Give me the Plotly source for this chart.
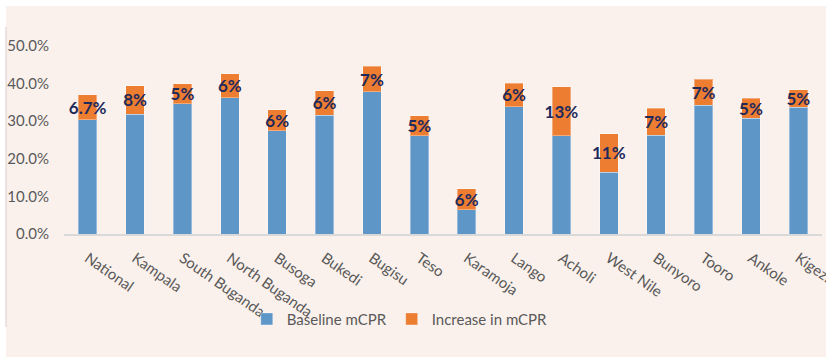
import plotly.graph_objects as go

regions = ["National", "Kampala", "South Buganda", "North Buganda", "Busoga", "Bukedi",
           "Bugisu", "Teso", "Karamoja", "Lango", "Acholi", "West Nile", "Bunyoro",
           "Tooro", "Ankole", "Kigezi"]
baseline = [0.304, 0.319, 0.347, 0.363, 0.274, 0.316, 0.378, 0.261, 0.064, 0.339,
            0.261, 0.164, 0.263, 0.343, 0.308, 0.337]
increase = [0.067, 0.075, 0.052, 0.063, 0.057, 0.065, 0.068, 0.054, 0.057, 0.062,
            0.131, 0.103, 0.071, 0.069, 0.053, 0.047]
increase_labels = ["6.7%", "8%", "5%", "6%", "6%", "6%", "7%", "5%", "6%", "6%",
                   "13%", "11%", "7%", "7%", "5%", "5%"]

BLUE = "#5F96C8"
ORANGE = "#ED7D31"
GREY = "#595959"
BG = "#FBF1EC"
FONT = "Lato"

fig = go.Figure()
fig.add_trace(go.Bar(
    x=regions, y=baseline, name="Baseline mCPR",
    marker=dict(color=BLUE, line=dict(color="rgba(255,255,255,0.35)", width=1)),
    hoverinfo="skip",
))
fig.add_trace(go.Bar(
    x=regions, y=increase, name="Increase in mCPR",
    marker=dict(color=ORANGE, line=dict(color="rgba(255,255,255,0.35)", width=1)),
    text=increase_labels, textposition="inside", insidetextanchor="middle",
    constraintext="none", textangle=0,
    textfont=dict(family=FONT, size=17, color="#1F2A5C", weight="bold"),
    hoverinfo="skip",
))

# plot-area geometry helpers for decoration (pixel -> paper)
L, R, T, B = 64, 4, 46, 123
W, H = 826, 357
pw, ph = W - L - R, H - T - B
def px(x):
    return (x - L) / pw
def py(y):
    return (H - B - y) / ph

fig.update_layout(
    width=W, height=H,
    margin=dict(l=L, r=R, t=T, b=B, autoexpand=False),
    barmode="stack", bargap=0.61,
    paper_bgcolor=BG, plot_bgcolor="rgba(0,0,0,0)",
    font=dict(family=FONT, size=14, color=GREY),
    showlegend=True,
    legend=dict(orientation="h", xref="container", yref="container",
                x=0.484, y=0.106, xanchor="center", yanchor="middle",
                font=dict(family=FONT, size=15, color=GREY),
                bgcolor="rgba(0,0,0,0)", itemwidth=30, traceorder="normal"),
    xaxis=dict(showline=True, linecolor="#D9D9D9", linewidth=1.5, tickangle=35,
               showgrid=False, ticks="", ticklabelstandoff=8, automargin=False,
               tickfont=dict(family=FONT, size=15, color=GREY)),
    yaxis=dict(range=[0, 0.5], tickvals=[0, 0.1, 0.2, 0.3, 0.4, 0.5], tickformat=".1%",
               showgrid=False, showline=False, zeroline=False, ticks="",
               ticklabelstandoff=14, automargin=False,
               tickfont=dict(family=FONT, size=15, color=GREY)),
    shapes=[
        dict(type="rect", xref="paper", yref="paper", x0=px(-2), x1=px(6), y0=py(-2), y1=py(H + 2),
             fillcolor="white", line=dict(width=0), layer="above"),
        dict(type="rect", xref="paper", yref="paper", x0=px(-2), x1=px(W + 2), y0=py(-2), y1=py(6),
             fillcolor="white", line=dict(width=0), layer="above"),
        dict(type="line", xref="paper", yref="paper", x0=px(6), x1=px(6), y0=py(27), y1=py(327),
             line=dict(color="#D6D0CD", width=1), layer="above"),
    ],
)

fig.write_html("out.html")
